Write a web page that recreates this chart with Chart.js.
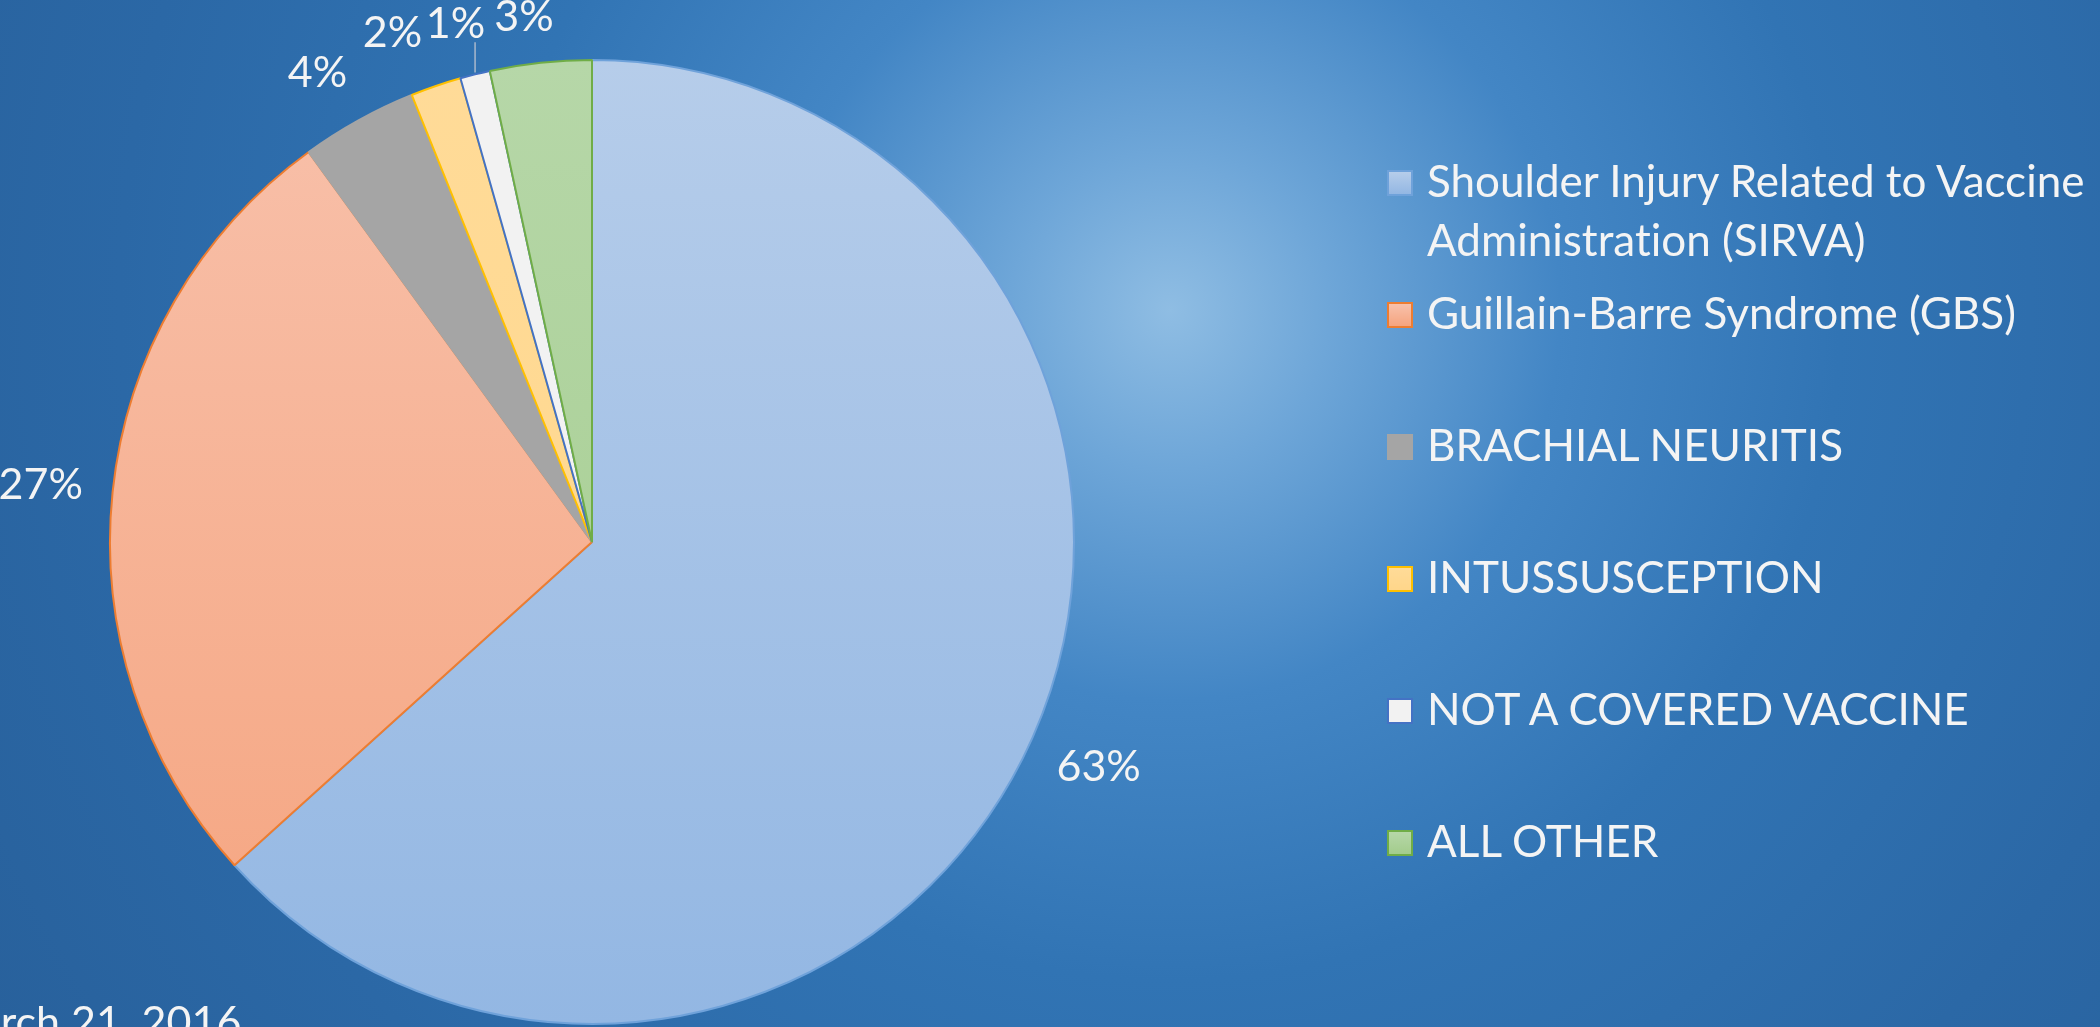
<!DOCTYPE html>
<html>
<head>
<meta charset="utf-8">
<script src="https://cdn.jsdelivr.net/npm/chart.js@4.4.1/dist/chart.umd.min.js"></script>
<style>
    html, body { margin: 0; padding: 0; width: 2100px; height: 1027px; overflow: hidden; }
    #wrap {
        position: relative; width: 2100px; height: 1027px; overflow: hidden;
        background: radial-gradient(circle at 1170px 310px, #8fbde3 0px, #6ea6d8 160px, #4386c5 390px, #3174b4 670px, #2b68a6 1050px, #265c95 1600px);
        font-family: Lato, 'Open Sans', sans-serif; color: #f4f4f4;
        font-variant-ligatures: none; font-feature-settings: "liga" 0;
    }
    canvas { position: absolute; left: 0; top: 0; }
    #legend { position: absolute; left: 1387px; top: 0; }
    .item { position: absolute; left: 0; white-space: nowrap; font-size: 44px; line-height: 59px; }
    .box { position: absolute; left: 0; top: 19px; width: 22px; height: 22px; border: 2px solid; }
    .txt { position: absolute; left: 40px; top: 0; }
    #date { position: absolute; left: -60px; top: 995px; font-size: 43px; line-height: 52px; white-space: nowrap; }
</style>
</head>
<body>
<div id="wrap">
    <canvas id="pie" width="2100" height="1027"></canvas>
    <div id="legend"></div>
    <div id="date">March 21, 2016</div>
</div>
<script>
// dados (percentual de casos)
const categorias = [
    ['Shoulder Injury Related to Vaccine', 'Administration (SIRVA)'],
    'Guillain-Barre Syndrome (GBS)',
    'BRACHIAL NEURITIS',
    'INTUSSUSCEPTION',
    'NOT A COVERED VACCINE',
    'ALL OTHER'
];
const valores = [63.3, 26.7, 3.9, 1.7, 1.0, 3.4];

// cores: topo / base do degradê e borda
const corTopo = ['#b6cdea', '#f8c1ab', '#a5a5a5', '#ffdb98', '#f2f2f2', '#b6d7a8'];
const corBase = ['#93b7e3', '#f5a47f', '#a5a5a5', '#ffd68a', '#f2f2f2', '#a3cc8c'];
const corBorda = ['#6fa2da', '#ed7d31', '#a5a5a5', '#ffc000', '#4472c4', '#70ad47'];

// legenda em HTML
const legendEl = document.getElementById('legend');
categorias.forEach((cat, i) => {
    const item = document.createElement('div');
    item.className = 'item';
    item.style.top = (151 + 132 * i) + 'px';
    const box = document.createElement('div');
    box.className = 'box';
    box.style.background = 'linear-gradient(' + corTopo[i] + ',' + corBase[i] + ')';
    box.style.borderColor = corBorda[i];
    const txt = document.createElement('div');
    txt.className = 'txt';
    txt.innerHTML = Array.isArray(cat) ? cat.join('<br>') : cat;
    item.appendChild(box);
    item.appendChild(txt);
    legendEl.appendChild(item);
});

// rótulos de porcentagem fora da pizza
const rotulosPlugin = {
    id: 'rotulos',
    afterDatasetsDraw(chart, args, opts) {
        const ctx = chart.ctx;
        const meta = chart.getDatasetMeta(0);
        const total = valores.reduce((a, b) => a + b, 0);
        ctx.save();
        ctx.font = '43px Lato, "Open Sans", sans-serif';
        ctx.fillStyle = '#f4f4f4';
        ctx.textAlign = 'center';
        ctx.textBaseline = 'middle';
        meta.data.forEach((arc, i) => {
            const p = arc.getProps(['x', 'y', 'startAngle', 'endAngle', 'outerRadius'], true);
            const meio = (p.startAngle + p.endAngle) / 2;
            const ajuste = opts.ajustes[i] || [0, 0];
            const lx = p.x + Math.cos(meio) * p.outerRadius * 1.15 + ajuste[0];
            const ly = p.y + Math.sin(meio) * p.outerRadius * 1.15 + ajuste[1];
            if (opts.linhas.includes(i)) {
                const ex = p.x + Math.cos(meio) * p.outerRadius;
                const ey = p.y + Math.sin(meio) * p.outerRadius;
                ctx.strokeStyle = '#a9b8cc';
                ctx.lineWidth = 1.5;
                ctx.beginPath();
                ctx.moveTo(ex, ey - 2);
                ctx.lineTo(ex, ly + 18);
                ctx.stroke();
            }
            ctx.fillText(Math.round(valores[i] / total * 100) + '%', lx, ly);
        });
        ctx.restore();
    }
};

// degradê vertical em cada fatia
function degrade(context) {
    const i = context.dataIndex;
    const area = context.chart.chartArea;
    if (!area) return corBase[i];
    const g = context.chart.ctx.createLinearGradient(0, area.top, 0, area.bottom);
    g.addColorStop(0, corTopo[i]);
    g.addColorStop(1, corBase[i]);
    return g;
}

new Chart(document.getElementById('pie'), {
    type: 'pie',
    data: {
        labels: categorias,
        datasets: [{
            data: valores,
            backgroundColor: degrade,
            borderColor: corBorda,
            borderWidth: 2
        }]
    },
    options: {
        responsive: false,
        animation: false,
        layout: { padding: { left: 109, top: 59, right: 1025, bottom: 2 } },
        plugins: {
            legend: { display: false },
            tooltip: { enabled: false },
            rotulos: {
                ajustes: [[0, 0], [0, 0], [-6, 16], [-20, 16], [-2, 20], [-9, 26]],
                linhas: [4]
            }
        }
    },
    plugins: [rotulosPlugin]
});
</script>
</body>
</html>
